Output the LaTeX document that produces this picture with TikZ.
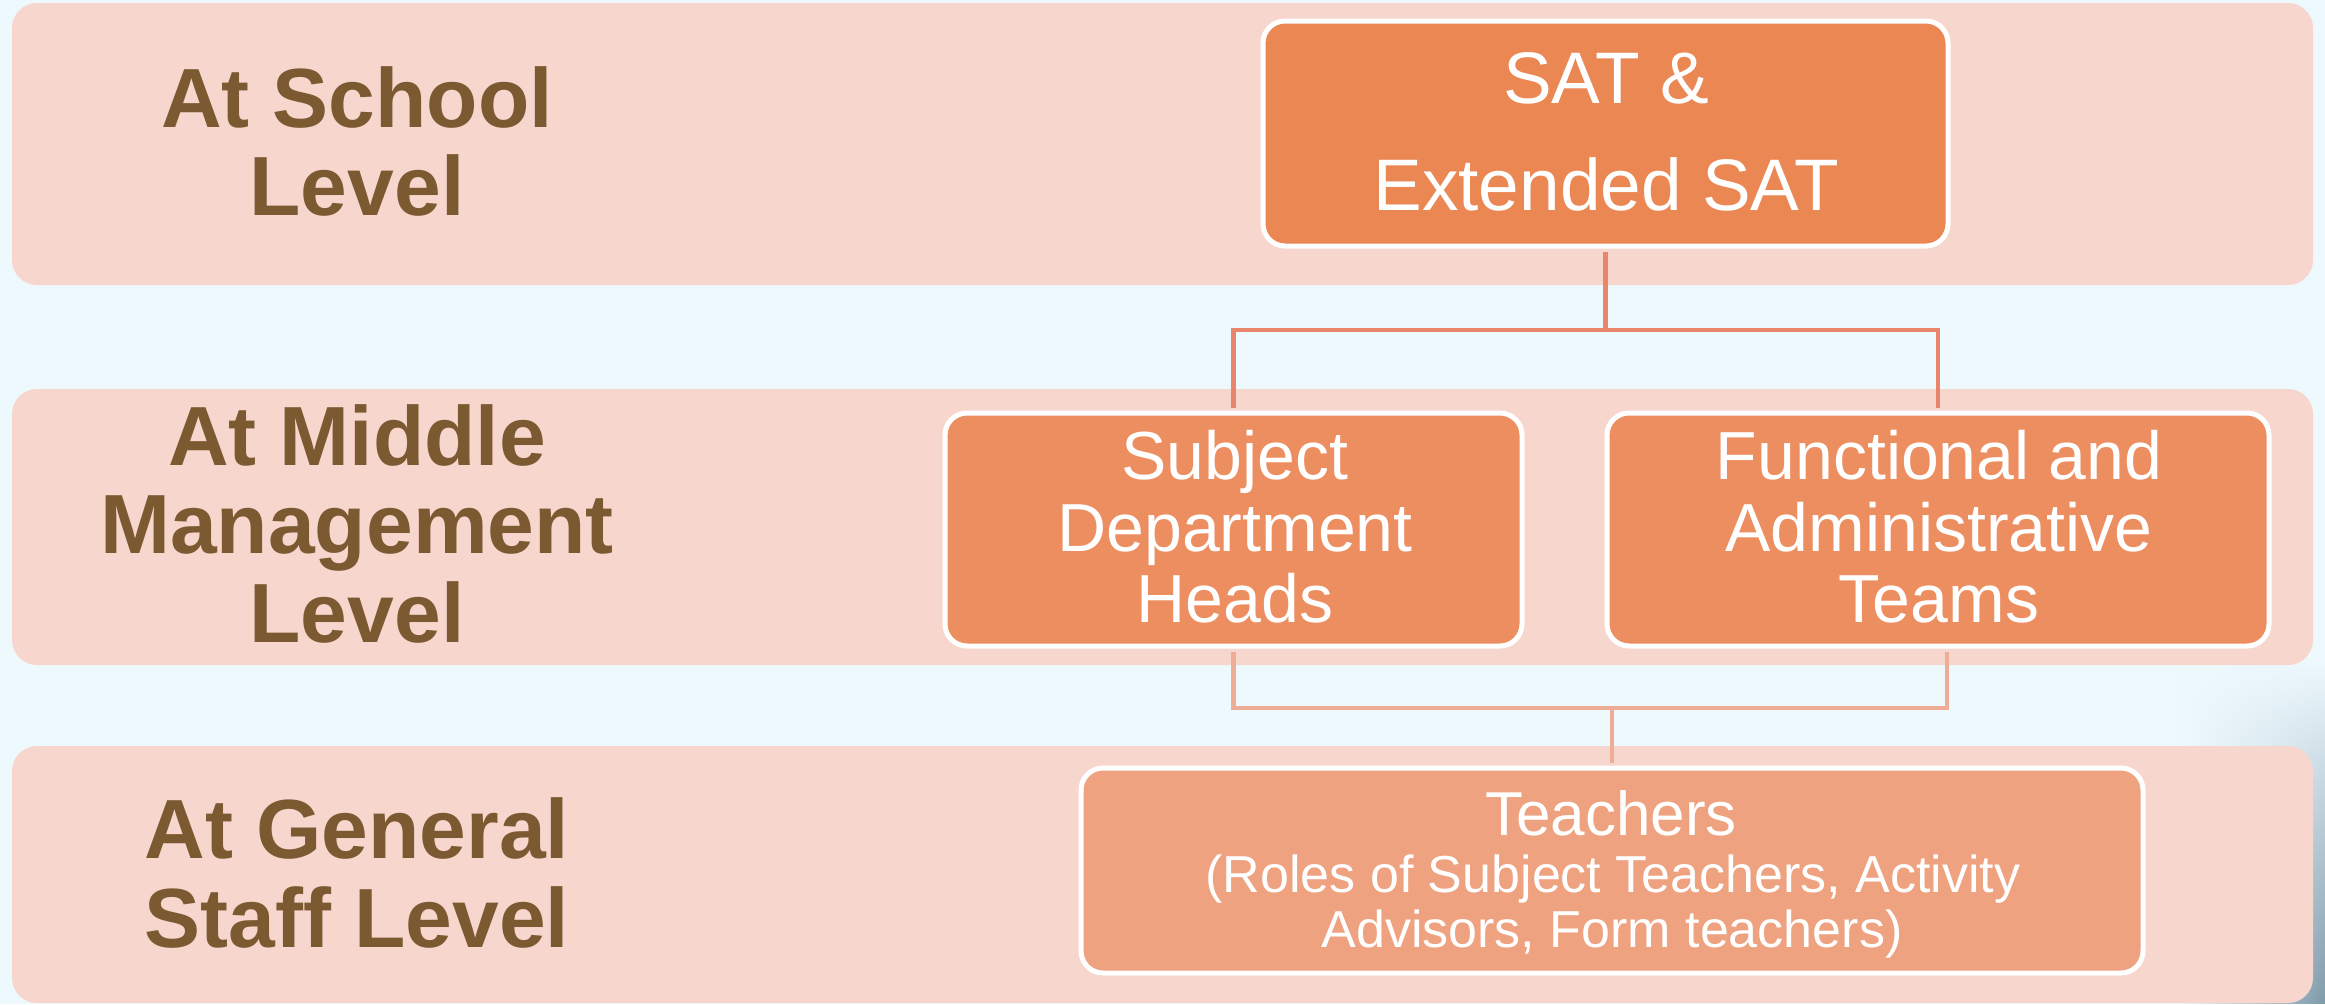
\documentclass[tikz,border=0pt]{standalone}
\usepackage{fontspec}
\setmainfont{Liberation Sans}
\usetikzlibrary{fadings}

\definecolor{bgblue}{HTML}{EEF9FE}
\definecolor{bandpink}{HTML}{F7D6CE}
\definecolor{topbox}{HTML}{EA8753}
\definecolor{midbox}{HTML}{EC8E60}
\definecolor{lowbox}{HTML}{EEA27F}
\definecolor{labelbrown}{HTML}{7B5A32}
\definecolor{linkupper}{HTML}{E8856A}
\definecolor{linklower}{HTML}{EFAD98}
\definecolor{haze}{HTML}{7F9AAA}

\tikzset{
  band/.style={fill=bandpink, rounded corners=25pt},
  orgbox/.style={draw=white, line width=5pt, rounded corners=22pt, inner sep=0pt},
  levellabel/.style={anchor=base, inner sep=0pt, text=labelbrown,
    font=\fontsize{84}{84}\selectfont\bfseries},
  boxline/.style={anchor=base, inner sep=0pt, text=white},
  upperlink/.style={draw=linkupper, line width=4.5pt},
  lowerlink/.style={draw=linklower, line width=4.5pt},
}

\begin{document}
\begin{tikzpicture}[x=1pt, y=-1pt]
  \useasboundingbox (0,0) rectangle (2325,1004);
  \fill[bgblue] (0,0) rectangle (2325,1004);
  % soft haze at the right edge of the backdrop
  \shade[top color=bgblue, bottom color=haze, path fading=west]
    (2180,660) rectangle (2325,1004);

  % level bands
  \fill[band] (12,3) rectangle (2313,285);
  \fill[band] (12,389) rectangle (2313,665);
  \fill[band] (12,746) rectangle (2313,1003);

  % level labels
  \node[levellabel] (school1) at (357,127) {At School};
  \node[levellabel] (school2) at (357,215) {Level};
  \node[levellabel] (middle1) at (357,465) {At Middle};
  \node[levellabel] (middle2) at (357,553) {Management};
  \node[levellabel] (middle3) at (357,642) {Level};
  \node[levellabel] (staff1) at (357,858) {At General};
  \node[levellabel] (staff2) at (357,947) {Staff Level};

  % boxes
  \node[orgbox, fill=topbox, minimum width=685pt, minimum height=225pt]
    (sat) at (1605.5,133.5) {};
  \node[orgbox, fill=midbox, minimum width=577pt, minimum height=233pt]
    (sdh) at (1233.5,529.5) {};
  \node[orgbox, fill=midbox, minimum width=662pt, minimum height=233pt]
    (fat) at (1938,529.5) {};
  \node[orgbox, fill=lowbox, minimum width=1062pt, minimum height=205pt]
    (teach) at (1612,870.5) {};

  % box texts
  \begin{scope}[every node/.append style={font=\fontsize{73}{73}\selectfont}]
    \node[boxline] (sat1) at (1606,103) {SAT \&};
    \node[boxline] (sat2) at (1606,210) {Extended SAT};
  \end{scope}
  \begin{scope}[every node/.append style={font=\fontsize{68}{68}\selectfont}]
    \node[boxline] (sdh1) at (1235,479) {Subject};
    \node[boxline] (sdh2) at (1235,551) {Department};
    \node[boxline] (sdh3) at (1235,622) {Heads};
    \node[boxline] (fat1) at (1939,479) {Functional and};
    \node[boxline] (fat2) at (1939,551) {Administrative};
    \node[boxline] (fat3) at (1939,622) {Teams};
  \end{scope}
  \node[boxline, font=\fontsize{62}{62}\selectfont] (teach1) at (1611,835) {Teachers};
  \begin{scope}[every node/.append style={font=\fontsize{52}{52}\selectfont}]
    \node[boxline] (teach2) at (1613,892) {(Roles of Subject Teachers, Activity};
    \node[boxline] (teach3) at (1612,947) {Advisors, Form teachers)};
  \end{scope}

  % connectors
  \coordinate (upperjoint) at (1605.5,330);
  \coordinate (lowerjoint) at (1612,708);
  \draw[upperlink] ([yshift=-3pt]sat.south) -- (upperjoint);
  \draw[upperlink] ([yshift=3pt]sdh.north) |- (upperjoint) -| ([yshift=3pt]fat.north);
  \draw[lowerlink] ([yshift=-3pt]sdh.south) |- (lowerjoint)
    -| ([xshift=9pt,yshift=-3pt]fat.south);
  \draw[lowerlink] (lowerjoint) -- ([yshift=3pt]teach.north);
\end{tikzpicture}
\end{document}
